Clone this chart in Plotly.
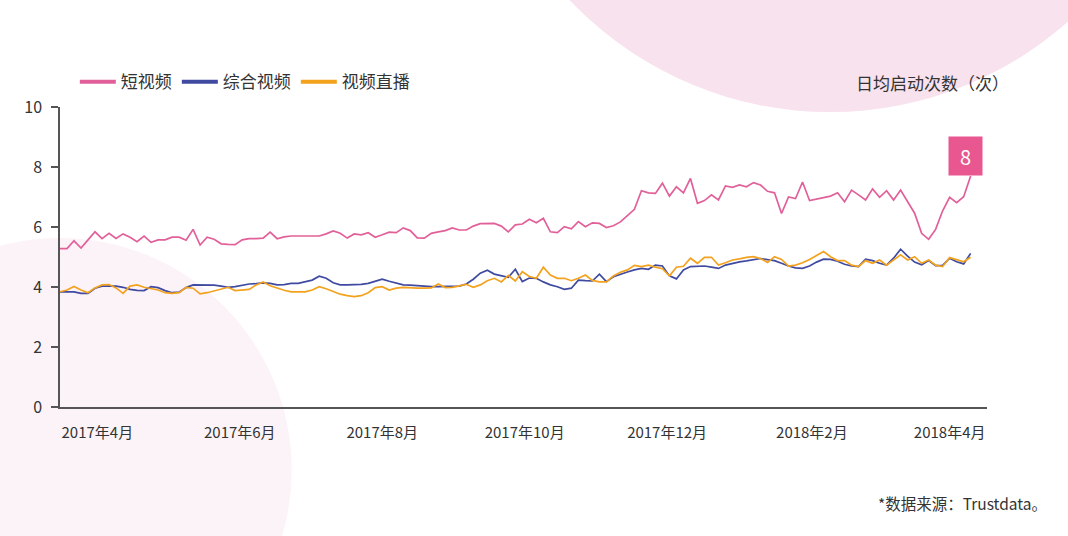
import pandas as pd
import plotly.graph_objects as go

start_date = "2017-03-16"
n_points = 131
dates = pd.date_range(start_date, periods=n_points, freq="3D")

short_video = [
    5.28, 5.28, 5.54, 5.30, 5.57, 5.84, 5.61, 5.79, 5.62, 5.77, 5.66, 5.51, 5.70, 5.49, 5.57, 5.57, 5.66,
    5.66, 5.56, 5.92, 5.40, 5.66, 5.59, 5.44, 5.42, 5.41, 5.57, 5.61, 5.61, 5.63, 5.83, 5.61, 5.67, 5.70,
    5.70, 5.70, 5.70, 5.70, 5.77, 5.87, 5.79, 5.63, 5.77, 5.74, 5.81, 5.66, 5.74, 5.83, 5.81, 5.97, 5.88,
    5.64, 5.63, 5.79, 5.84, 5.88, 5.97, 5.90, 5.90, 6.03, 6.11, 6.12, 6.12, 6.03, 5.84, 6.07, 6.10,
    6.26, 6.14, 6.29, 5.84, 5.81, 6.01, 5.94, 6.18, 6.01, 6.14, 6.12, 5.98, 6.04, 6.17, 6.38, 6.59, 7.21,
    7.14, 7.12, 7.46, 7.03, 7.34, 7.14, 7.62, 6.79, 6.88, 7.07, 6.90, 7.37, 7.32, 7.40, 7.34, 7.48,
    7.40, 7.19, 7.14, 6.45, 7.00, 6.95, 7.50, 6.88, 6.92, 6.98, 7.03, 7.14, 6.84, 7.23, 7.07, 6.90, 7.27,
    6.99, 7.21, 6.90, 7.23, 6.84, 6.46, 5.79, 5.59, 5.92, 6.54, 6.99, 6.81, 7.01, 7.70,
]
general_video = [
    3.84, 3.84, 3.84, 3.79, 3.79, 3.96, 4.03, 4.03, 4.03, 3.99, 3.92, 3.89, 3.88, 4.01, 3.98, 3.88, 3.81,
    3.83, 3.98, 4.07, 4.07, 4.08, 4.06, 4.03, 3.99, 4.01, 4.06, 4.10, 4.11, 4.14, 4.12, 4.07, 4.08, 4.12,
    4.12, 4.17, 4.23, 4.36, 4.29, 4.14, 4.07, 4.07, 4.07, 4.09, 4.12, 4.19, 4.26, 4.19, 4.12, 4.07, 4.06,
    4.04, 4.03, 4.01, 4.01, 4.01, 4.01, 4.03, 4.10, 4.26, 4.46, 4.56, 4.43, 4.37, 4.32, 4.59, 4.18,
    4.30, 4.29, 4.17, 4.07, 4.01, 3.92, 3.96, 4.23, 4.21, 4.20, 4.43, 4.18, 4.34, 4.43, 4.50, 4.57, 4.62,
    4.59, 4.73, 4.70, 4.37, 4.27, 4.57, 4.68, 4.69, 4.70, 4.66, 4.62, 4.73, 4.79, 4.84, 4.87, 4.90,
    4.95, 4.91, 4.88, 4.79, 4.70, 4.64, 4.62, 4.70, 4.83, 4.93, 4.92, 4.86, 4.76, 4.70, 4.68, 4.93, 4.88,
    4.79, 4.73, 4.96, 5.26, 5.03, 4.83, 4.74, 4.88, 4.71, 4.72, 4.96, 4.84, 4.77, 5.12,
]
live_video = [
    3.84, 3.90, 4.02, 3.90, 3.81, 3.97, 4.07, 4.08, 3.97, 3.79, 4.03, 4.07, 3.99, 3.94, 3.90, 3.81, 3.79,
    3.81, 3.99, 3.96, 3.77, 3.81, 3.87, 3.92, 3.99, 3.88, 3.90, 3.92, 4.07, 4.17, 4.04, 3.96, 3.89, 3.84,
    3.84, 3.84, 3.90, 4.01, 3.94, 3.84, 3.76, 3.71, 3.68, 3.71, 3.81, 3.98, 4.01, 3.90, 3.96, 3.99, 3.97,
    3.96, 3.96, 3.97, 4.10, 3.98, 3.99, 4.03, 4.09, 3.99, 4.07, 4.21, 4.29, 4.17, 4.39, 4.20, 4.51,
    4.35, 4.29, 4.66, 4.40, 4.29, 4.29, 4.21, 4.29, 4.40, 4.22, 4.17, 4.17, 4.37, 4.49, 4.57, 4.72, 4.68,
    4.73, 4.66, 4.61, 4.37, 4.66, 4.69, 4.96, 4.79, 4.99, 4.99, 4.73, 4.81, 4.90, 4.94, 4.99, 5.01,
    4.95, 4.82, 5.01, 4.92, 4.70, 4.73, 4.81, 4.92, 5.04, 5.18, 5.01, 4.88, 4.88, 4.73, 4.68, 4.88, 4.79,
    4.90, 4.73, 4.90, 5.07, 4.90, 5.01, 4.79, 4.90, 4.73, 4.68, 4.98, 4.92, 4.84, 4.99,
]

series_names = ["短视频", "综合视频", "视频直播"]
tick_dates = ["2017-04-01", "2017-06-01", "2017-08-01", "2017-10-01", "2017-12-01", "2018-02-01", "2018-04-01"]
tick_labels = ["2017年4月", "2017年6月", "2017年8月", "2017年10月", "2017年12月", "2018年2月", "2018年4月"]
y_ticks = [0, 2, 4, 6, 8, 10]
callout_text = "8"

# ---- styling ----
PINK = "#e2609a"
BLUE = "#3f4aa0"
ORANGE = "#f3a21e"
TEXT = "#333333"
FONT = "Noto Sans CJK SC"

fig = go.Figure()
for name, vals, col in [(series_names[0], short_video, PINK),
                        (series_names[1], general_video, BLUE),
                        (series_names[2], live_video, ORANGE)]:
    fig.add_trace(go.Scatter(x=dates, y=vals, mode="lines", name=name, showlegend=False,
                             legendgroup=name, line=dict(color=col, width=1.7)))
    # legend-only entry with a thick sample line, as in the reference
    fig.add_trace(go.Scatter(x=[None], y=[None], mode="lines", name=name, legendgroup=name,
                             line=dict(color=col, width=4)))

# decorative background circles
fig.add_shape(type="circle", xref="paper", yref="paper", layer="below",
              x0=0.444, x1=1.217, y0=0.983, y1=3.37,
              fillcolor="#f8e2ed", line=dict(width=0))
fig.add_shape(type="circle", xref="paper", yref="paper", layer="below",
              x0=-0.25, x1=0.25, y0=-0.983, y1=0.563,
              fillcolor="rgba(245,215,232,0.3)", line=dict(width=0))

# callout box at last short-video point
fig.add_annotation(x=dates[-1], y=short_video[-1], text=callout_text, showarrow=False,
                   xanchor="center", yanchor="bottom", xshift=-5, yshift=0,
                   width=31, height=36, bgcolor="#e8578f",
                   font=dict(color="white", size=20, family=FONT))

fig.add_annotation(xref="paper", yref="paper", x=1.026, y=1.083, text="日均启动次数（次）",
                   showarrow=False, xanchor="right", yanchor="middle",
                   font=dict(color=TEXT, size=17, family=FONT))
fig.add_annotation(xref="paper", yref="paper", x=1.067, y=-0.32, text="*数据来源：Trustdata。",
                   showarrow=False, xanchor="right", yanchor="middle",
                   font=dict(color=TEXT, size=15.5, family=FONT))

fig.update_layout(
    width=1068, height=536,
    margin=dict(l=60, r=81, t=107, b=129),
    paper_bgcolor="white", plot_bgcolor="rgba(0,0,0,0)",
    font=dict(family=FONT, color=TEXT),
    showlegend=True,
    legend=dict(orientation="h", x=0.016, y=1.083, xanchor="left", yanchor="middle",
                font=dict(size=17, color=TEXT, family=FONT), bgcolor="rgba(0,0,0,0)",
                itemwidth=36, tracegroupgap=0),
    xaxis=dict(range=["2017-03-16", "2018-04-17"], tickvals=tick_dates, ticktext=tick_labels,
               showgrid=False, zeroline=False, showline=True, linecolor="#555555", linewidth=1.5,
               ticks="", tickfont=dict(size=15, color=TEXT, family=FONT), ticklabelstandoff=11),
    yaxis=dict(range=[0, 10], tickvals=y_ticks, showgrid=False, zeroline=False,
               showline=True, linecolor="#555555", linewidth=1.5,
               ticks="outside", ticklen=7, tickcolor="#555555", tickwidth=1.5,
               tickfont=dict(size=16, color=TEXT, family=FONT), ticklabelstandoff=6),
)

fig.write_html("out.html", config={"displayModeBar": False},
               post_script="document.body.style.margin='0';document.body.style.overflow='hidden';")
